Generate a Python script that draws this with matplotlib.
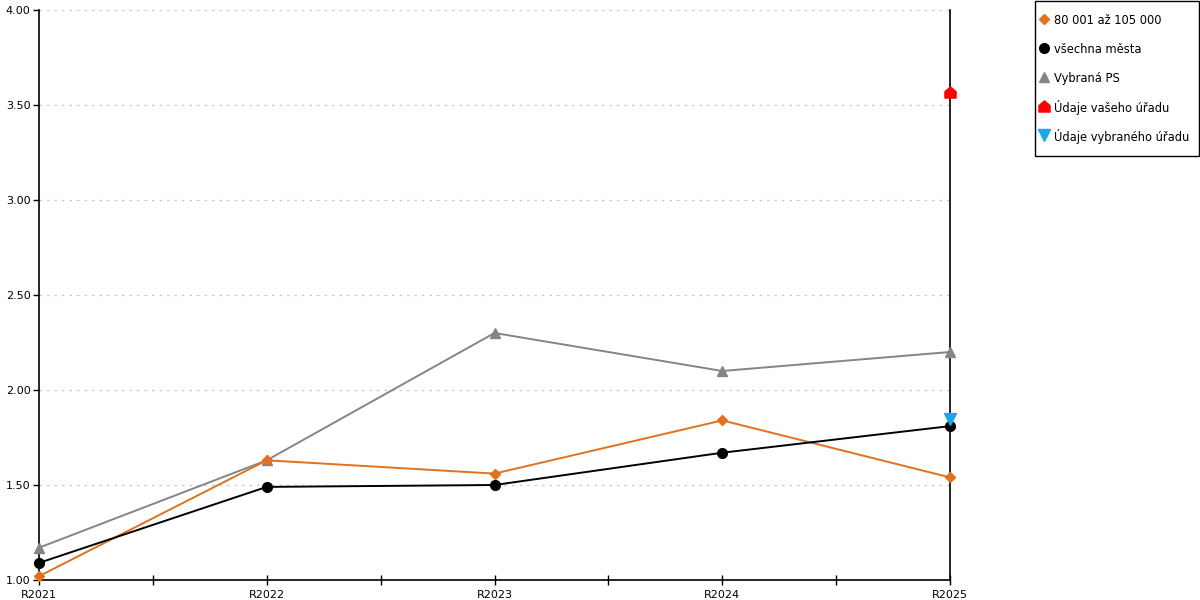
import matplotlib
matplotlib.use("Agg")
import matplotlib.pyplot as plt
from matplotlib.lines import Line2D
from matplotlib.path import Path
from matplotlib.patches import Rectangle
from matplotlib.ticker import FixedLocator

years = ["R2021", "R2022", "R2023", "R2024", "R2025"]
mid_values = [1.02, 1.63, 1.56, 1.84, 1.54]      # 80 001 až 105 000
all_cities = [1.09, 1.49, 1.50, 1.67, 1.81]      # všechna města
selected_ps = [1.17, 1.63, 2.30, 2.10, 2.20]     # Vybraná PS
your_office = [3.57]                             # Údaje vašeho úřadu (R2025)
chosen_office = [1.85]                           # Údaje vybraného úřadu (R2025)
y_ticks = [1.00, 1.50, 2.00, 2.50, 3.00, 3.50, 4.00]

house = Path([(-1, -1), (1, -1), (1, 0.15), (0, 1), (-1, 0.15), (-1, -1)],
             [Path.MOVETO, Path.LINETO, Path.LINETO, Path.LINETO, Path.LINETO,
              Path.CLOSEPOLY])

plt.rcParams["font.family"] = ["DejaVu Sans"]
plt.rcParams["font.size"] = 8

fig = plt.figure(figsize=(12, 6), dpi=100)
ax = fig.add_axes([39 / 1200, 20 / 600, 911 / 1200, 570 / 600])

x = list(range(len(years)))
ax.plot(x, selected_ps, color="#858585", lw=1.4, marker="^", ms=7,
        label="Vybraná PS", zorder=3, clip_on=False)
ax.plot(x, mid_values, color="#E2711D", lw=1.4, marker="D", ms=5.5,
        label="80 001 až 105 000", zorder=4, clip_on=False)
ax.plot(x, all_cities, color="#000000", lw=1.4, marker="o", ms=7,
        label="všechna města", zorder=5, clip_on=False)
ax.plot([x[-1]], your_office, ls="none", color="#FF0000", marker=house, ms=8,
        label="Údaje vašeho úřadu", zorder=6, clip_on=False)
ax.plot([x[-1]], chosen_office, ls="none", color="#1AA7E6", marker="v", ms=8,
        label="Údaje vybraného úřadu", zorder=6, clip_on=False)

ax.set_xlim(0, len(years) - 1)
ax.set_ylim(1.0, 4.0)
ax.set_xticks(x)
ax.set_xticklabels(years)
ax.xaxis.set_minor_locator(FixedLocator([i + 0.5 for i in x[:-1]]))
ax.tick_params(axis="x", which="both", direction="inout", length=7, width=1, pad=4)
ax.set_yticks(y_ticks)
ax.set_yticklabels([f"{v:.2f}" for v in y_ticks])
ax.tick_params(axis="y", direction="out", length=4, width=1, pad=2)
ax.grid(axis="y", color="#c8c8c8", ls=(0, (2, 4)), lw=0.9)
ax.set_axisbelow(True)
ax.spines["top"].set_visible(False)
for side in ("left", "right", "bottom"):
    ax.spines[side].set_linewidth(1.2)

# legend built by hand so rows are evenly spaced like the reference
fig.patches.append(Rectangle((1034.5 / 1200, 1 - 155.5 / 600), 164 / 1200, 154 / 600,
                             transform=fig.transFigure, fill=False,
                             edgecolor="black", linewidth=1))
handles, labels = ax.get_legend_handles_labels()
order = [1, 2, 0, 3, 4]
for row, i in enumerate(order):
    h = handles[i]
    y = 1 - (19 + 29 * row) / 600
    fig.lines.append(Line2D([1043.5 / 1200], [y], transform=fig.transFigure,
                            ls="none", marker=h.get_marker(), color=h.get_color(),
                            ms=h.get_markersize()))
    fig.text(1054 / 1200, y, labels[i], fontsize=8.3, ha="left", va="center_baseline")

fig.savefig("out.png", dpi=100)
